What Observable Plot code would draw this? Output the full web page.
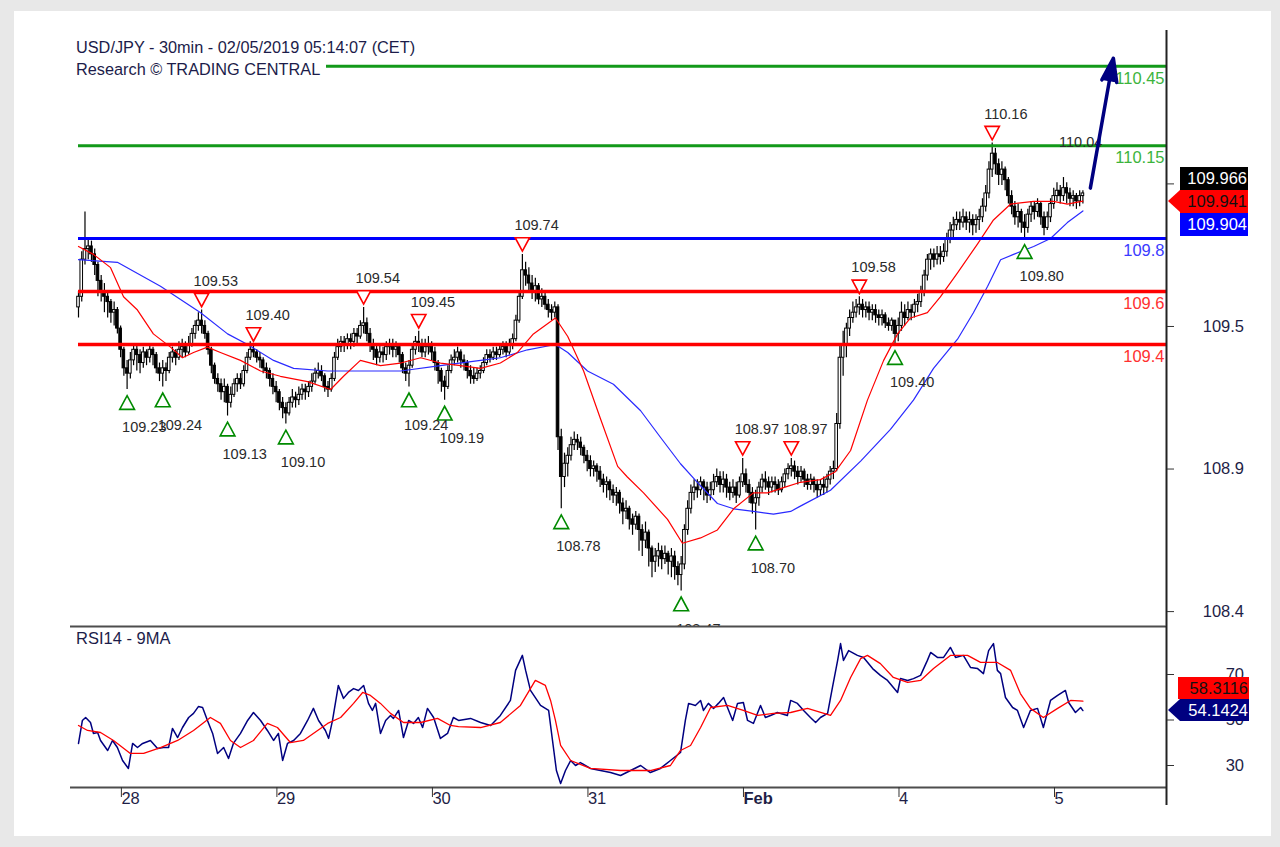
<!DOCTYPE html>
<html><head><meta charset="utf-8">
<script src="https://cdn.jsdelivr.net/npm/d3@7"></script>
<script src="https://cdn.jsdelivr.net/npm/@observablehq/plot@0.6"></script>
<style>
body{margin:0;background:#e8e8e8;width:1280px;height:847px;overflow:hidden;position:relative;font-family:"Liberation Sans",Arial,sans-serif;}
#card{position:absolute;left:14px;top:11px;width:1257px;height:825px;background:#fff;}
#main,#rsi{position:absolute;left:0;}
#main{top:0px}
#rsi{top:610px}
.title{position:absolute;left:76px;top:36px;font-size:16.3px;color:#1c1c4a;line-height:22px;}
.title span{background:#fff;display:inline-block;padding-right:6px;}
.sub{position:absolute;left:76px;top:627px;font-size:16.5px;color:#1c1c4a;line-height:22px;}
.pbox{position:absolute;height:23px;line-height:23px;font-size:16.5px;text-align:right;padding-right:1px;width:67px;left:1180px;}
.arrL{position:absolute;width:0;height:0;border-top:11.5px solid transparent;border-bottom:11.5px solid transparent;left:1168px;}
</style></head>
<body>
<div id="card"></div>
<div id="main"></div>
<div id="rsi"></div>
<div class="title"><span>USD/JPY - 30min - 02/05/2019 05:14:07 (CET)</span><br><span>Research © TRADING CENTRAL</span></div>
<div class="sub">RSI14 - 9MA</div>
<div class="pbox" style="top:167px;background:#000;color:#fff;">109.966</div>
<div class="arrL" style="top:190px;border-right:12px solid #ff0000;"></div>
<div class="pbox" style="top:190px;background:#ff0000;color:#111;">109.941</div>
<div class="pbox" style="top:213px;background:#0000ff;color:#fff;">109.904</div>
<div class="pbox" style="top:677px;height:22px;line-height:22px;left:1178px;width:70px;background:#ff0000;color:#111;">58.3116</div>
<div class="arrL" style="top:699px;border-top-width:11px;border-bottom-width:11px;border-right:12px solid #000080;"></div>
<div class="pbox" style="top:699px;height:22px;line-height:22px;width:68px;background:#000080;color:#fff;">54.1424</div>
<script>
// ---------- DATA ----------
const firstOpen = 109.54;
const closes = [109.58,109.72,109.76,109.77,109.74,109.70,109.64,109.60,109.58,109.56,109.52,109.53,109.46,109.38,109.31,109.29,109.34,109.38,109.36,109.33,
109.37,109.35,109.38,109.36,109.31,109.29,109.31,109.30,109.35,109.37,109.35,109.38,109.39,109.37,109.40,109.44,109.47,109.49,109.47,109.44,
109.38,109.32,109.27,109.25,109.22,109.24,109.18,109.21,109.25,109.27,109.25,109.30,109.35,109.38,109.37,109.35,109.34,109.31,109.30,109.27,
109.24,109.22,109.18,109.16,109.14,109.18,109.20,109.19,109.21,109.23,109.22,109.24,109.26,109.29,109.30,109.28,109.24,109.23,109.27,109.35,
109.39,109.41,109.40,109.42,109.41,109.44,109.43,109.47,109.48,109.44,109.40,109.38,109.35,109.37,109.36,109.39,109.40,109.38,109.39,109.36,
109.31,109.29,109.32,109.38,109.41,109.40,109.37,109.39,109.40,109.37,109.33,109.30,109.26,109.24,109.30,109.34,109.35,109.37,109.34,109.33,
109.30,109.28,109.27,109.29,109.30,109.33,109.36,109.35,109.37,109.36,109.38,109.39,109.37,109.40,109.42,109.49,109.58,109.68,109.66,109.63,
109.60,109.62,109.57,109.58,109.55,109.53,109.52,109.54,109.05,108.90,108.95,108.98,109.02,109.04,109.03,109.01,108.98,108.96,108.93,108.94,
108.92,108.89,108.87,108.88,108.85,108.83,108.84,108.80,108.77,108.78,108.74,108.72,108.75,108.70,108.66,108.69,108.63,108.58,108.60,108.62,
108.59,108.61,108.58,108.60,108.56,108.53,108.57,108.70,108.78,108.84,108.86,108.85,108.88,108.86,108.83,108.85,108.88,108.90,108.87,108.89,
108.86,108.84,108.86,108.83,108.88,108.91,108.87,108.84,108.80,108.82,108.86,108.89,108.88,108.86,108.88,108.87,108.85,108.88,108.91,108.93,
108.94,108.92,108.90,108.92,108.89,108.87,108.89,108.87,108.85,108.87,108.86,108.89,108.92,108.93,109.10,109.35,109.40,109.46,109.50,109.52,
109.54,109.55,109.53,109.54,109.52,109.53,109.51,109.50,109.51,109.48,109.47,109.49,109.44,109.47,109.52,109.50,109.53,109.52,109.55,109.56,
109.60,109.66,109.72,109.74,109.72,109.74,109.73,109.75,109.80,109.83,109.85,109.87,109.86,109.88,109.86,109.87,109.85,109.87,109.88,109.92,
109.97,110.06,110.12,110.08,110.04,110.06,110.02,109.96,109.92,109.88,109.90,109.86,109.84,109.89,109.92,109.90,109.93,109.88,109.84,109.88,
109.93,109.96,109.98,109.96,109.99,109.97,109.95,109.96,109.94,109.96,109.97];
const highs = [109.60,109.75,109.90,109.80,109.79,109.76,109.71,109.66,109.63,109.60,109.57,109.56,109.54,109.47,109.39,109.34,109.37,109.40,109.40,109.38,
109.39,109.38,109.40,109.39,109.37,109.33,109.34,109.33,109.37,109.39,109.38,109.41,109.42,109.41,109.43,109.46,109.49,109.52,109.53,109.49,
109.45,109.39,109.33,109.29,109.27,109.27,109.25,109.24,109.27,109.29,109.29,109.32,109.37,109.41,109.40,109.38,109.37,109.35,109.33,109.31,
109.29,109.26,109.23,109.20,109.18,109.20,109.23,109.22,109.24,109.25,109.25,109.26,109.29,109.31,109.33,109.32,109.29,109.26,109.29,109.37,
109.42,109.43,109.43,109.44,109.44,109.46,109.46,109.49,109.54,109.50,109.46,109.42,109.40,109.40,109.39,109.41,109.42,109.42,109.41,109.40,
109.37,109.33,109.34,109.40,109.43,109.45,109.42,109.42,109.43,109.41,109.39,109.34,109.31,109.28,109.32,109.36,109.38,109.39,109.38,109.36,
109.34,109.32,109.31,109.31,109.32,109.35,109.38,109.38,109.39,109.39,109.40,109.41,109.41,109.42,109.44,109.51,109.60,109.74,109.71,109.69,
109.66,109.65,109.63,109.61,109.60,109.57,109.55,109.56,109.55,109.08,108.99,109.01,109.05,109.07,109.06,109.05,109.02,109.00,108.98,108.96,
108.95,108.94,108.91,108.90,108.89,108.87,108.86,108.85,108.82,108.81,108.79,108.76,108.77,108.76,108.72,108.73,108.70,108.64,108.63,108.65,
108.64,108.64,108.62,108.63,108.62,108.58,108.60,108.72,108.81,108.87,108.89,108.89,108.90,108.89,108.88,108.88,108.91,108.93,108.92,108.92,
108.91,108.88,108.89,108.88,108.90,108.97,108.93,108.89,108.86,108.85,108.88,108.91,108.92,108.90,108.90,108.90,108.89,108.90,108.93,108.95,
108.97,108.96,108.94,108.94,108.93,108.91,108.91,108.90,108.89,108.89,108.90,108.91,108.94,108.96,109.14,109.40,109.45,109.48,109.53,109.56,
109.57,109.58,109.57,109.56,109.56,109.55,109.55,109.53,109.53,109.52,109.50,109.50,109.49,109.50,109.56,109.55,109.56,109.55,109.57,109.59,
109.62,109.68,109.74,109.76,109.76,109.77,109.77,109.78,109.82,109.86,109.88,109.90,109.90,109.91,109.90,109.90,109.89,109.89,109.91,109.95,
110.00,110.09,110.16,110.14,110.10,110.09,110.07,110.03,109.98,109.94,109.93,109.91,109.89,109.91,109.94,109.94,109.95,109.94,109.90,109.90,
109.95,109.99,110.01,110.00,110.03,110.01,109.99,109.98,109.97,109.98,109.98];
const lows = [109.50,109.56,109.70,109.72,109.71,109.66,109.58,109.56,109.52,109.50,109.48,109.47,109.44,109.35,109.28,109.23,109.27,109.32,109.30,109.29,
109.31,109.32,109.33,109.32,109.29,109.26,109.24,109.26,109.29,109.33,109.32,109.34,109.35,109.35,109.36,109.39,109.42,109.45,109.44,109.42,
109.36,109.29,109.25,109.22,109.19,109.18,109.13,109.16,109.20,109.22,109.23,109.24,109.29,109.34,109.35,109.33,109.31,109.29,109.27,109.24,
109.21,109.18,109.15,109.12,109.10,109.13,109.16,109.16,109.17,109.19,109.19,109.20,109.22,109.25,109.27,109.26,109.22,109.20,109.22,109.26,
109.34,109.37,109.37,109.38,109.38,109.39,109.40,109.42,109.44,109.41,109.37,109.34,109.32,109.33,109.33,109.34,109.36,109.35,109.35,109.33,
109.29,109.26,109.24,109.31,109.36,109.37,109.35,109.35,109.36,109.34,109.30,109.25,109.22,109.19,109.23,109.29,109.32,109.33,109.31,109.30,
109.27,109.25,109.25,109.26,109.27,109.29,109.32,109.33,109.34,109.34,109.35,109.36,109.35,109.36,109.38,109.41,109.48,109.57,109.62,109.60,
109.57,109.56,109.55,109.54,109.53,109.50,109.49,109.50,109.00,108.78,108.86,108.90,108.96,109.00,109.00,108.98,108.95,108.92,108.90,108.90,
108.88,108.86,108.84,108.82,108.81,108.80,108.79,108.76,108.72,108.74,108.70,108.68,108.70,108.62,108.60,108.63,108.56,108.52,108.54,108.56,
108.55,108.57,108.53,108.52,108.51,108.49,108.47,108.55,108.68,108.76,108.81,108.82,108.83,108.81,108.80,108.81,108.83,108.86,108.84,108.84,
108.82,108.81,108.82,108.80,108.82,108.86,108.84,108.80,108.76,108.70,108.79,108.84,108.85,108.83,108.84,108.84,108.83,108.84,108.86,108.89,
108.90,108.89,108.87,108.88,108.86,108.85,108.85,108.84,108.82,108.83,108.83,108.84,108.87,108.89,108.92,109.08,109.28,109.35,109.43,109.48,
109.50,109.51,109.50,109.50,109.49,109.49,109.48,109.47,109.47,109.46,109.45,109.45,109.40,109.41,109.45,109.47,109.49,109.49,109.50,109.52,
109.54,109.58,109.64,109.68,109.69,109.70,109.70,109.71,109.73,109.78,109.80,109.83,109.83,109.84,109.83,109.82,109.81,109.82,109.83,109.86,
109.90,109.95,110.03,110.04,110.00,110.00,109.98,109.93,109.89,109.85,109.84,109.82,109.80,109.82,109.86,109.87,109.88,109.85,109.81,109.83,
109.86,109.91,109.94,109.93,109.94,109.93,109.92,109.92,109.91,109.92,109.93];

// moving averages on price (bar index, value)
const maFastIdx = [0,4.6,9.9,13.9,18.2,23.1,28.4,32.1,35.5,39.8,43.8,50,56.2,62.3,70.7,77.8,81.8,87,93.2,99.4,105.6,111.7,117.9,124.1,130.2,135.5,140.4,147.2,151,155.9,161.1,166.4,169.4,174.4,181.8,186.4,192,197.2,202.2,208.3,212.7,217.6,222.8,229,233.6,238.3,243.5,248.5,252.8,256.8,262,266,271.3,277.5,282.4,287.7,294.8,300.9,305.2,310];
const maFastVal = [109.77,109.74,109.69,109.58,109.53,109.44,109.39,109.35,109.37,109.39,109.37,109.34,109.30,109.28,109.26,109.23,109.28,109.34,109.32,109.33,109.35,109.33,109.32,109.31,109.33,109.37,109.44,109.50,109.43,109.30,109.12,108.94,108.90,108.84,108.74,108.65,108.67,108.70,108.78,108.84,108.84,108.86,108.88,108.89,108.92,109.00,109.19,109.34,109.44,109.50,109.52,109.58,109.67,109.78,109.87,109.93,109.94,109.94,109.93,109.941];
const maSlowIdx = [0,12,25.3,37.7,46,52.2,60.2,66.4,76.9,87,99.4,111.7,124.1,130.2,138.6,147.2,151,157.1,165.1,173.5,179.6,185.8,191,197.2,202.2,208.3,214.5,219.8,222.8,232.1,241.4,250.6,257.7,263.9,271.3,276.2,280.6,284.6,288.6,294.8,300,305.2,310];
const maSlowVal = [109.72,109.71,109.62,109.52,109.44,109.40,109.34,109.31,109.30,109.30,109.30,109.32,109.34,109.35,109.38,109.40,109.37,109.30,109.25,109.15,109.05,108.95,108.88,108.80,108.78,108.77,108.76,108.77,108.79,108.85,108.96,109.08,109.19,109.31,109.42,109.52,109.62,109.72,109.74,109.77,109.80,109.86,109.904];

// RSI14 and its 9MA (bar index, value)
const rsiIdx = [0,1.2,2.2,3.7,4.6,5.9,6.8,9,10.5,12,13.6,15.4,16.7,18.2,19.8,22.2,24.4,26.2,27.8,29,30.6,32.1,34,35.5,37,38.3,39.8,41.4,42.9,44.8,46.3,47.8,50,52.2,54,56.2,58.3,60.2,61.7,63,64.5,66.4,68.5,70.7,72.5,74.1,76.2,77.2,78.4,80.2,81.8,83.3,84.9,86.4,88,89.5,90.7,91.7,93.2,94.8,96.3,97.2,98.8,100.3,101.9,103.4,104.9,106.2,107.7,109.6,111.7,113.9,115.7,117.3,121,124.1,127.2,130.2,133.3,134.9,137,138,139.5,142.6,145.1,146.3,147.5,148.8,150.3,151.9,153.4,154.9,158,161.1,164.2,167.3,170.4,173.5,176.5,179.6,182.7,185.8,187.3,188.3,190.4,192,192.9,194.4,196,197.5,199.1,200.3,201.9,203.4,205.2,206.5,208.3,210.5,212,213.6,215.7,218.8,219.8,221.9,223.8,225.9,227.5,229,231.2,232.7,234.3,235.2,236.1,237.7,240.4,242.3,245.1,247.5,249.7,251.5,252.8,253.7,255.9,257.7,259.9,262,263,265.1,267,269.1,270.7,273.1,275.3,277.5,279.3,280.9,282.4,283.6,284.6,286.1,288.3,289.8,291.7,293.8,296,297.8,300,302.2,304.6,305.6,307.7,309.3,310];
const rsiVal = [39.7,49.8,51.1,48.9,44.1,44.5,41.0,36.6,41.0,37.9,32.2,28.7,39.7,37.9,39.7,41.0,37.5,37.9,37.9,46.3,42.3,46.7,51.1,52.9,55.9,55.5,49.8,44.1,35.3,37.9,33.1,39.7,44.1,49.8,53.3,49.8,45.4,41.0,44.1,32.2,39.7,41.0,44.1,49.8,55.1,49.8,45.4,41.9,49.8,65.2,59.5,62.1,63.8,63.0,65.2,57.3,54.2,57.3,44.1,49.8,52.0,50.7,54.2,42.3,49.8,48.5,51.1,46.7,55.1,51.1,41.9,44.1,51.1,49.8,50.7,48.9,47.6,52.0,58.6,71.8,78.4,71.8,63.0,56.4,54.2,41.0,27.8,22.1,27.8,32.2,30.0,31.3,28.7,27.8,26.9,25.6,27.8,30.0,26.9,28.7,32.2,35.7,49.8,57.3,56.4,58.6,54.2,57.3,55.1,57.3,59.9,55.5,49.8,57.3,57.7,49.8,48.5,56.4,51.1,52.0,53.3,52.0,58.6,57.3,54.2,51.1,48.9,51.1,52.9,64.3,76.2,83.6,76.2,80.5,78.4,77.5,72.6,69.6,67.4,64.3,62.1,68.2,67.4,68.2,69.6,76.2,79.7,77.5,77.5,81.9,77.5,78.4,73.1,72.6,70.4,80.5,83.6,71.8,70.4,59.9,55.5,54.2,46.7,54.2,55.1,46.7,58.6,60.8,63.0,57.7,53.3,55.5,54.1424];
const rsiMaIdx = [0,2.8,6.8,10.8,16,20.1,25.3,30.6,35.5,40.7,43.8,46.9,50,54,58.3,61.4,65.4,69.4,73.8,76.9,80.9,84.9,87.7,90.1,93.2,96.3,100.3,105.6,110.8,114.8,117.3,124.1,130.2,136.4,141,144.1,145.7,147.2,148.8,151.9,158,167.3,176.5,182.7,185.8,188.9,192,195.1,200.3,205.2,209.6,214.5,219.8,225,232.1,235.2,238.3,241.4,243.5,247.5,251.5,255.9,259.9,263.9,269.1,274.4,278.4,283.6,287.7,290.7,293.8,297.8,302.2,306.2,310];
const rsiMaVal = [47.6,45.4,44.5,41.0,35.3,35.3,37.9,41.0,45.4,51.1,48.5,41.0,37.9,41.0,48.5,46.7,40.1,41.0,45.4,48.5,51.1,57.3,62.1,60.8,57.3,52.9,48.9,48.9,50.7,47.6,47.1,46.7,48.9,56.4,67.4,65.2,58.6,49.8,38.8,32.2,28.7,27.8,27.8,30.0,36.6,38.8,46.7,55.5,56.4,54.2,52.0,52.9,53.3,55.1,52.0,58.6,68.7,77.0,78.4,74.8,68.7,66.5,67.4,72.6,78.4,78.4,75.3,75.3,71.8,61.6,55.1,51.1,55.1,58.6,58.3116];

// horizontal levels
const resistanceLevels = [110.45, 110.15];
const pivotLevels = [109.8];
const supportLevels = [109.6, 109.4];
const levelLabels = {110.45:"110.45", 110.15:"110.15", 109.8:"109.8", 109.6:"109.6", 109.4:"109.4"};

// swing highs / lows
const peakIdx = [38, 54, 88, 105, 137, 205, 220, 241, 282];
const peakVal = [109.53, 109.40, 109.54, 109.45, 109.74, 108.97, 108.97, 109.58, 110.16];
const troughIdx = [15, 26, 46, 64, 102, 113, 149, 186, 209, 252, 292];
const troughVal = [109.23, 109.24, 109.13, 109.10, 109.24, 109.19, 108.78, 108.47, 108.70, 109.40, 109.80];

// projection arrow & note
const arrowFromIdx = 312.3, arrowFromVal = 109.99;
const arrowToIdx = 319.4, arrowToVal = 110.48;
const noteIdx = 316, noteVal = 110.15, noteText = "110.04";

// axes
const priceTicks = [110.006, 109.468, 108.930, 108.392];
const priceTickLabels = ["", "109.5", "108.9", "108.4"];   // top tick label sits under the last-price box
const rsiTicks = [30, 50, 70];
const dayIdx = [12, 60, 108, 156, 204, 252, 300];
const dayLabels = ["28", "29", "30", "31", "Feb", "4", "5"];

const X_DOMAIN = [-2.47, 335.8];
const PRICE_DOMAIN = [108.3358, 110.5849];
const RSI_DOMAIN = [20.33, 91.1];

// ---------- BUILD ----------
const FONT = "Liberation Sans, Arial, sans-serif";
const bars = closes.map((c, i) => ({i, o: i === 0 ? firstOpen : closes[i - 1], c, h: highs[i], l: lows[i]}));
const upBars = bars.filter(d => d.c >= d.o), downBars = bars.filter(d => d.c < d.o);
const pairs = (I, V) => I.map((i, k) => ({i, v: V[k]}));
const lv = arr => arr.map(v => ({v, t: levelLabels[v]}));
const peaks = pairs(peakIdx, peakVal), troughs = pairs(troughIdx, troughVal);
const XR = X_DOMAIN[1];
const priceLabelOf = new Map(priceTicks.map((t, k) => [t, priceTickLabels[k]]));

function tri(dir) {
  return {draw(ctx, size) {
    const r = Math.sqrt(size / Math.PI);
    const h = r * 0.93 * dir;
    ctx.moveTo(-r, -h); ctx.lineTo(r, -h); ctx.lineTo(0, h); ctx.closePath();
  }};
}
const triDown = tri(1), triUp = tri(-1);

const levelMarks = (arr, stroke, sw, labelFill) => [
  Plot.ruleY(lv(arr), {y: "v", x1: 0, x2: XR, stroke, strokeWidth: sw}),
  Plot.text(lv(arr), {x: XR, y: "v", text: "t", textAnchor: "end", dx: -2, dy: 12, fill: labelFill, fontSize: 16.5})
];

const main = Plot.plot({
  width: 1280, height: 626, marginLeft: 70, marginRight: 114, marginTop: 30, marginBottom: 0,
  style: {background: "transparent", fontFamily: FONT},
  x: {domain: X_DOMAIN, axis: null},
  y: {domain: PRICE_DOMAIN, axis: null},
  marks: [
    Plot.ruleX(bars, {x: "i", y1: "l", y2: "h", stroke: "#000", strokeWidth: 1.2}),
    Plot.rect(downBars, {x1: d => d.i - 0.4, x2: d => d.i + 0.4, y1: "o", y2: "c", fill: "#000", stroke: "#000", strokeWidth: 1}),
    Plot.rect(upBars, {x1: d => d.i - 0.4, x2: d => d.i + 0.4, y1: "o", y2: "c", fill: "#fff", stroke: "#000", strokeWidth: 1}),
    Plot.line(pairs(maSlowIdx, maSlowVal), {x: "i", y: "v", stroke: "#2a2aff", strokeWidth: 1.2}),
    Plot.line(pairs(maFastIdx, maFastVal), {x: "i", y: "v", stroke: "#ff0000", strokeWidth: 1.2}),
    ...levelMarks(resistanceLevels, "#12991a", 3, "#3cb43c"),
    ...levelMarks(pivotLevels, "#0000ff", 3, "#3b3bff"),
    ...levelMarks(supportLevels, "#ff0000", 3.5, "#ff3030"),
    Plot.dot(peaks, {x: "i", y: "v", symbol: triDown, r: 7.2, stroke: "#ff0000", fill: "#fff", strokeWidth: 1.6, dy: -10}),
    Plot.text(peaks, {x: "i", y: "v", text: d => d.v.toFixed(2), textAnchor: "start", dx: -8, dy: -29, fill: "#2a2a2a", fontSize: 14.5}),
    Plot.dot(troughs, {x: "i", y: "v", symbol: triUp, r: 7.4, stroke: "#008a00", fill: "#fff", strokeWidth: 1.6, dy: 13}),
    Plot.text(troughs, {x: "i", y: "v", text: d => d.v.toFixed(2), textAnchor: "start", dx: -5, dy: 38, fill: "#2a2a2a", fontSize: 14.5}),
    Plot.text([{i: noteIdx, v: noteVal}], {x: "i", y: "v", text: () => noteText, textAnchor: "end", dy: -3, fill: "#2a2a2a", fontSize: 14.5}),
    Plot.arrow([{x1: arrowFromIdx, y1: arrowFromVal, x2: arrowToIdx, y2: arrowToVal}], {x1: "x1", y1: "y1", x2: "x2", y2: "y2", stroke: "#000080", strokeWidth: 3.5, headLength: 10.5, headAngle: 36}),
    Plot.ruleX([XR], {stroke: "#222", strokeWidth: 2}),
    Plot.axisY({anchor: "right", label: null, ticks: priceTicks, tickFormat: d => priceLabelOf.get(d), tickSize: 7, tickPadding: 70.5, textAnchor: "end", fontSize: 16.5, fill: "#1e1e46", stroke: "#333"})
  ]
});
d3.select(main).selectAll('g[aria-label="arrow"] path').attr("fill", "#000080");
document.getElementById("main").appendChild(main);

const labelOf = new Map(dayIdx.map((d, k) => [d, dayLabels[k]]));
const rsi = Plot.plot({
  width: 1280, height: 200, marginLeft: 70, marginRight: 114, marginTop: 16, marginBottom: 23,
  style: {background: "transparent", fontFamily: FONT},
  x: {domain: X_DOMAIN, axis: null},
  y: {domain: RSI_DOMAIN, axis: null},
  marks: [
    Plot.line(pairs(rsiIdx, rsiVal), {x: "i", y: "v", stroke: "#000080", strokeWidth: 1.5}),
    Plot.line(pairs(rsiMaIdx, rsiMaVal), {x: "i", y: "v", stroke: "#ff0000", strokeWidth: 1.3}),
    Plot.ruleY([RSI_DOMAIN[1]], {stroke: "#4d4d4d", strokeWidth: 2}),
    Plot.ruleY([RSI_DOMAIN[0]], {stroke: "#4d4d4d", strokeWidth: 2}),
    Plot.ruleX([XR], {stroke: "#222", strokeWidth: 2, insetBottom: -18}),
    Plot.axisY({anchor: "right", label: null, ticks: rsiTicks, tickSize: 7, tickPadding: 70.5, textAnchor: "end", fontSize: 16.5, fill: "#1e1e46", stroke: "#333"}),
    Plot.axisX({label: null, ticks: dayIdx.filter(d => labelOf.get(d) !== "Feb"), tickFormat: d => labelOf.get(d), tickSize: 10, tickPadding: -5, textAnchor: "start", dx: 4, fontSize: 16.5, fill: "#1e1e46", stroke: "#333"}),
    Plot.axisX({label: null, ticks: dayIdx.filter(d => labelOf.get(d) === "Feb"), tickFormat: d => labelOf.get(d), tickSize: 10, tickPadding: -5, textAnchor: "start", dx: 4, fontSize: 16.5, fontWeight: "bold", fill: "#1e1e46", stroke: "#333"})
  ]
});
document.getElementById("rsi").appendChild(rsi);
</script>
</body></html>
